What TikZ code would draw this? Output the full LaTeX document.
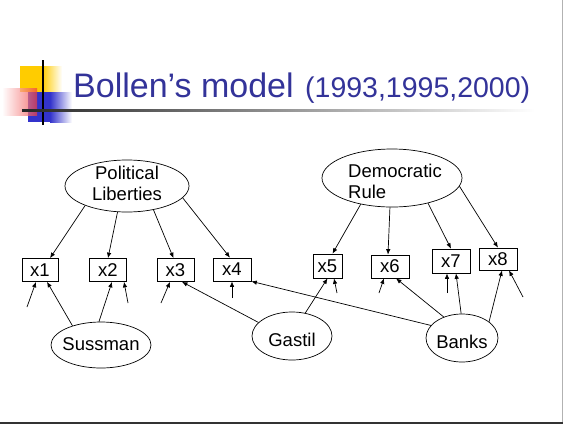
\documentclass[tikz,border=0pt]{standalone}
\usepackage{fontspec}
\setmainfont{Liberation Sans}
\usetikzlibrary{shapes,arrows.meta}
\definecolor{titleblue}{RGB}{51,51,153}
\definecolor{logoyellow}{RGB}{255,204,0}
\definecolor{logoblue}{RGB}{51,51,204}
\definecolor{logored}{RGB}{240,60,60}
\begin{document}
\begin{tikzpicture}[x=1pt,y=-1pt]
      \tikzset{latent/.style={ellipse,draw,inner sep=0pt,line width=0.7pt},
        latent text/.style={align=left,inner sep=0pt,font=\fontsize{18.5}{21}\selectfont},
        obs/.style={rectangle,draw,inner sep=0pt,line width=0.7pt,
          minimum width=37pt,minimum height=23pt,
          font=\fontsize{18.5}{21}\selectfont},
        path arrow/.style={-{Latex[length=5.5pt,width=4.5pt]},line width=0.7pt}
      }
      \useasboundingbox (0,0) rectangle (563,424);
      \draw [gray!60,line width=1pt] (562,0)--(562,424);
      \draw [black!80,line width=2pt] (0,423)--(563,423);

      % title and logo
      \fill [logoyellow] (20,66) rectangle (42,92);
      \shade [left color=logoyellow,right color=white] (42,66) rectangle (62,92);
      \fill [logoblue] (28,92) rectangle (50,122);
      \shade [left color=logoblue,right color=white] (50,92) rectangle (72,122);
      \shade [left color=white,right color=logored,opacity=0.7] (2,88) rectangle (37,115);
      \draw [line width=2pt] (43,60)--(43,125);
      \shade [left color=black!85,middle color=black!55,right color=white] (22,109) rectangle (535,111);
      \node [anchor=base west,inner sep=0pt,text=titleblue,
        font=\fontsize{34}{40}\selectfont] (title) at (73,97) {Bollen’s model};
      \node [anchor=base west,inner sep=0pt,text=titleblue,
        font=\fontsize{28.5}{34}\selectfont] (years) at (305,97) {(1993,1995,2000)};

      % latent variables
      \node [latent,minimum width=124pt,minimum height=52pt,
        label={[latent text,align=center,yshift=3pt]center:Political\\Liberties}] (PL) at (127,186) {};
      \node [latent,minimum width=140pt,minimum height=58pt,
        label={[latent text,xshift=3pt,yshift=-3pt]center:Democratic\\Rule}] (DR) at (392,178) {};

      % indicators
      \node [obs,minimum width=36pt] (x1) at (40,270) {x1};
      \node [obs] (x2) at (108,270) {x2};
      \node [obs] (x3) at (175.5,270) {x3};
      \node [obs,minimum width=38pt] (x4) at (232,269.5) {x4};
      \node [obs,minimum width=29pt,minimum height=24pt] (x5) at (327.5,266) {x5};
      \node [obs,minimum width=38pt] (x6) at (390,266.5) {x6};
      \node [obs,minimum width=38pt,minimum height=24pt] (x7) at (451,261) {x7};
      \node [obs,minimum width=38pt,minimum height=22pt] (x8) at (498,259) {x8};

      % sources
      \node [latent,minimum width=100pt,minimum height=46pt,
        label={[latent text,yshift=1pt]center:Sussman}] (S) at (101,345) {};
      \node [latent,minimum width=80pt,minimum height=48pt,
        label={[latent text,yshift=-4pt]center:Gastil}] (G) at (292,336) {};
      \node [latent,minimum width=72pt,minimum height=48pt,
        label={[latent text,yshift=-4pt]center:Banks}] (B) at (462,338) {};

      \draw [path arrow] (PL.205)--([xshift=10pt]x1.north);
      \draw [path arrow] (PL.250)--(x2.north);
      \draw [path arrow] (PL.-42)--([xshift=-2pt]x3.north);
      \draw [path arrow] (PL.-12)--([xshift=-2pt]x4.north);
      \draw [path arrow] (DR.220)--([xshift=5pt]x5.north);
      \draw [path arrow] (DR.266)--([xshift=-2pt]x6.north);
      \draw [path arrow] (DR.-35)--(x7.north);
      \draw [path arrow] (DR.-7)--(x8.north);

      \draw [path arrow] (S.146)--([xshift=7pt]x1.south);
      \draw [path arrow] (S.95)--([xshift=4pt]x2.south);
      \draw [path arrow] (G.158)--([xshift=6.5pt]x3.south);
      \draw [path arrow] (G.60)--(x5.south);
      \draw [path arrow] (B.158)--(x4.south east);
      \draw [path arrow] (B.131)--([xshift=6pt]x6.south);
      \draw [path arrow] (B.92)--([xshift=5pt]x7.south);
      \draw [path arrow] (B.31)--([xshift=4pt]x8.south);

      % disturbances
      \coordinate (e1) at (27,307);
      \coordinate (e2) at (128,303);
      \coordinate (e3) at (161,303);
      \coordinate (e4) at (232,298);
      \coordinate (e5) at (337,293);
      \coordinate (e6) at (379,293);
      \coordinate (e7) at (447,293);
      \coordinate (e8) at (523,297);
      \draw [path arrow] (e1)--([xshift=-4pt]x1.south);
      \draw [path arrow] (e2)--([xshift=16pt]x2.south);
      \draw [path arrow] (e3)--([xshift=-5.5pt]x3.south);
      \draw [path arrow] (e4)--(x4.south);
      \draw [path arrow] (e5)--([xshift=6.5pt]x5.south);
      \draw [path arrow] (e6)--([xshift=-6pt]x6.south);
      \draw [path arrow] (e7)--([xshift=-4pt]x7.south);
      \draw [path arrow] (e8)--([xshift=11pt]x8.south);

    \end{tikzpicture}
\end{document}
